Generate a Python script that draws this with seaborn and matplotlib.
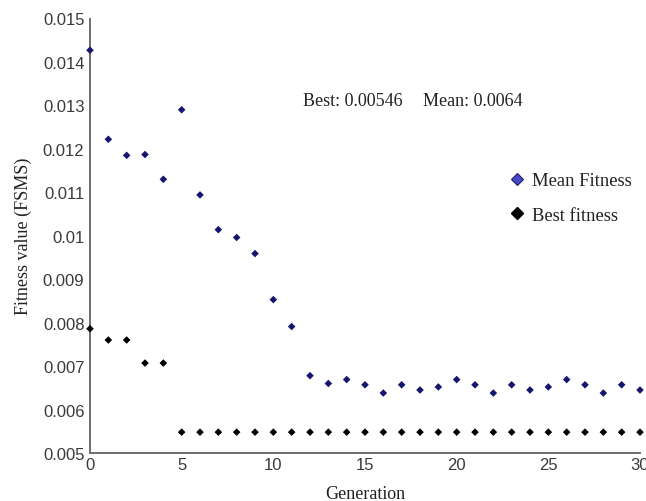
import numpy as np
import pandas as pd
import matplotlib
matplotlib.use("Agg")
import matplotlib.pyplot as plt
from matplotlib.lines import Line2D
from matplotlib.ticker import FuncFormatter
import seaborn as sns

generations = list(range(0, 31))
mean_fitness = [0.01427, 0.01222, 0.01185, 0.01187, 0.01130, 0.01290, 0.01094, 0.01014,
                0.00996, 0.00959, 0.00853, 0.00791, 0.00678, 0.00660, 0.00669, 0.00657,
                0.00638, 0.00657, 0.00645, 0.00652, 0.00669, 0.00657, 0.00638, 0.00657,
                0.00645, 0.00652, 0.00669, 0.00657, 0.00638, 0.00657, 0.00645]
best_fitness = [0.00786, 0.00760, 0.00760, 0.00707, 0.00707] + [0.00548] * 26
x_ticks = [0, 5, 10, 15, 20, 25, 30]
y_ticks = [0.005, 0.006, 0.007, 0.008, 0.009, 0.01, 0.011, 0.012, 0.013, 0.014, 0.015]

df = pd.DataFrame({
    "Generation": generations * 2,
    "Fitness": mean_fitness + best_fitness,
    "Series": ["Mean Fitness"] * len(generations) + ["Best fitness"] * len(generations),
})

sns.set_style("white")
serif = ["Liberation Serif", "DejaVu Serif"]
sans = ["Liberation Sans", "DejaVu Sans"]
plt.rcParams["font.family"] = sans

W, H = 646, 502
ax_left, ax_bottom, ax_w, ax_h = 90, 48, 550, 434.5
fig = plt.figure(figsize=(W / 100, H / 100), dpi=100)
ax = fig.add_axes([ax_left / W, ax_bottom / H, ax_w / W, ax_h / H])


def ax_frac(px, py):
    return (px - ax_left) / ax_w, (H - py - ax_bottom) / ax_h


sns.scatterplot(data=df, x="Generation", y="Fitness", hue="Series", style="Series",
                palette={"Mean Fitness": "#16166e", "Best fitness": "#000000"},
                markers={"Mean Fitness": "D", "Best fitness": "D"},
                s=15, linewidth=0, ax=ax, legend=False, clip_on=False, zorder=3)

ax.set_xlim(0, 30)
ax.set_ylim(0.005, 0.015)
ax.set_xticks(x_ticks)
ax.set_yticks(y_ticks)
ax.yaxis.set_major_formatter(FuncFormatter(lambda v, p: "%g" % round(v, 4)))
ax.xaxis.set_major_formatter(FuncFormatter(lambda v, p: "%g" % v))

for side in ["top", "right"]:
    ax.spines[side].set_visible(False)
for side in ["left", "bottom"]:
    ax.spines[side].set_color("#6e6e6e")
    ax.spines[side].set_linewidth(1.4)

ax.tick_params(axis="both", direction="in", length=5, width=1.2, color="#6e6e6e",
               labelsize=12, labelcolor="#3a3a3a")
ax.tick_params(axis="y", pad=4)
ax.tick_params(axis="x", pad=3)
for lab in ax.get_xticklabels() + ax.get_yticklabels():
    lab.set_family(sans)

ax.set_xlabel("Generation", family=serif, fontsize=13, color="#222222", labelpad=9)
ax.set_ylabel("Fitness value (FSMS)", family=serif, fontsize=13, color="#222222", labelpad=8)

bx, by = ax_frac(303, 101)
ax.text(bx, by, "Best: 0.00546", transform=ax.transAxes, family=serif, fontsize=13,
        color="#222222", va="center", ha="left")
mx, my = ax_frac(423, 101)
ax.text(mx, my, "Mean: 0.0064", transform=ax.transAxes, family=serif, fontsize=13,
        color="#222222", va="center", ha="left")

handles = [
    Line2D([], [], marker="D", linestyle="none", markersize=6.5,
           markerfacecolor="#4848c8", markeredgecolor="#20206a", markeredgewidth=0.8,
           label="Mean Fitness"),
    Line2D([], [], marker="D", linestyle="none", markersize=6.5,
           markerfacecolor="#000000", markeredgecolor="#000000", label="Best fitness"),
]
lx, ly = ax_frac(510, 173)
leg = ax.legend(handles=handles, loc="upper left", bbox_to_anchor=(lx, ly),
                frameon=False, prop={"family": serif, "size": 13.4}, handlelength=0.8,
                handletextpad=0.4, labelspacing=0.95, borderaxespad=0, borderpad=0)
for t in leg.get_texts():
    t.set_color("#222222")

fig.savefig("out.png", dpi=100)
